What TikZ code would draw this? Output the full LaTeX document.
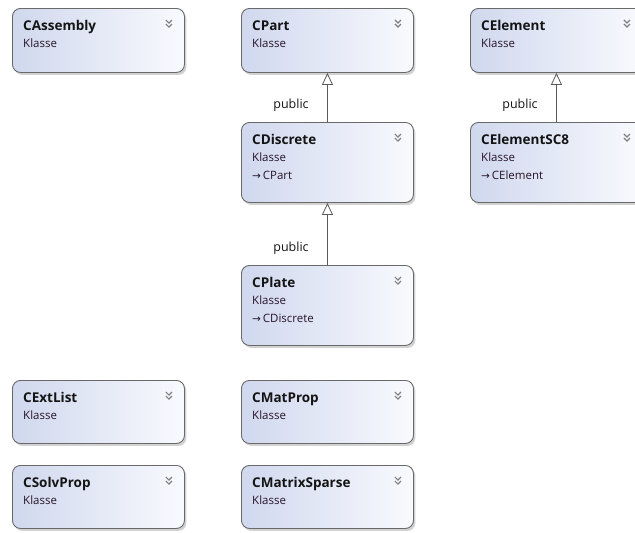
\documentclass[tikz,border=0pt]{standalone}
\usepackage{fontspec}
\setmainfont{Open Sans}
\newfontfamily\arrowfont{DejaVu Sans}
\usetikzlibrary{shadows,arrows.meta}
\definecolor{boxleft}{RGB}{208,216,238}
\definecolor{boxright}{RGB}{249,250,254}
\definecolor{boxline}{RGB}{105,105,105}
\definecolor{txt}{RGB}{20,20,20}
\definecolor{sub}{RGB}{40,20,40}
\definecolor{conn}{RGB}{90,90,90}
\tikzset{
  cbox/.style={draw=boxline, line width=0.9pt, rounded corners=8pt, left color=boxleft, right color=boxright,
    minimum width=172pt, anchor=north west, inner sep=0pt,
    drop shadow={opacity=0.35, shadow xshift=2pt, shadow yshift=-2.5pt}},
  ctitle/.style={anchor=base west, inner sep=0pt, text=txt, font=\fontsize{13.5}{15}\selectfont\bfseries},
  csub/.style={anchor=base west, inner sep=0pt, text=sub, font=\fontsize{11.5}{14}\selectfont},
  chev/.style={draw=gray, line width=1.2pt},
  inh/.style={draw=conn, line width=0.8pt, -{Triangle[open, length=12pt, width=11pt, line width=0.8pt]}},
  lbl/.style={inner sep=0pt, text=txt, font=\fontsize{12.5}{14}\selectfont}
}
\newcommand\classbox[6]{%
  \node[cbox, minimum height=#4] (#1) at (#2,#3) {};
  \node[ctitle] (#1-t) at ([xshift=11pt,yshift=-22pt]#1.north west) {#5};
  \node[csub] (#1-k) at ([xshift=11pt,yshift=-39pt]#1.north west) {Klasse};
  \draw[chev] ([xshift=-19pt,yshift=-12pt]#1.north east) -- ([xshift=-16pt,yshift=-15pt]#1.north east) -- ([xshift=-13pt,yshift=-12pt]#1.north east);
  \draw[chev] ([xshift=-19pt,yshift=-16pt]#1.north east) -- ([xshift=-16pt,yshift=-19pt]#1.north east) -- ([xshift=-13pt,yshift=-16pt]#1.north east);
  #6}
\newcommand\inhmark{{\arrowfont\fontsize{10.5}{12}\selectfont →}}
\begin{document}
\begin{tikzpicture}[x=1pt,y=-1pt]
\useasboundingbox[fill=white] (0,0) rectangle (635,533);
\classbox{CAssembly}{12}{8}{64pt}{CAssembly}{}
\classbox{CPart}{241}{8}{64pt}{CPart}{}
\classbox{CElement}{470}{8}{64pt}{CElement}{}
\classbox{CDiscrete}{241}{122}{80pt}{CDiscrete}{\node[csub] (CDiscrete-b) at ([xshift=11pt,yshift=-57pt]CDiscrete.north west) {\inhmark\,CPart};}
\classbox{CElementSC}{470}{122}{80pt}{CElementSC8}{\node[csub] (CElementSC-b) at ([xshift=11pt,yshift=-57pt]CElementSC.north west) {\inhmark\,CElement};}
\classbox{CPlate}{241}{265}{80pt}{CPlate}{\node[csub] (CPlate-b) at ([xshift=11pt,yshift=-57pt]CPlate.north west) {\inhmark\,CDiscrete};}
\classbox{CExtList}{12}{380}{63pt}{CExtList}{}
\classbox{CMatProp}{241}{380}{63pt}{CMatProp}{}
\classbox{CSolvProp}{12}{465}{63pt}{CSolvProp}{}
\classbox{CMatrixSparse}{241}{465}{63pt}{CMatrixSparse}{}
\draw[inh] (CDiscrete.north) -- (CPart.south);
\draw[inh] (CElementSC.north) -- (CElement.south);
\draw[inh] (CPlate.north) -- (CDiscrete.south);
\node[lbl] (l1) at (291,105) {public};
\node[lbl] (l2) at (520,105) {public};
\node[lbl] (l3) at (291,248) {public};
\end{tikzpicture}
\end{document}
